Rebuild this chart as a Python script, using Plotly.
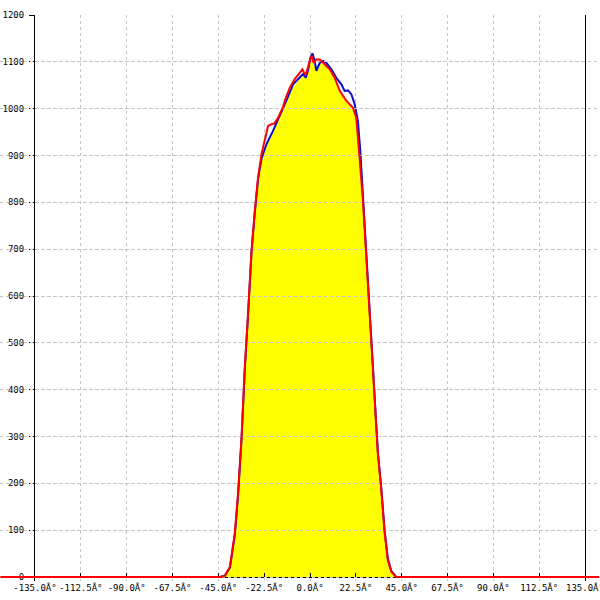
import plotly.graph_objects as go

# ---------------- data ----------------
angles_red = [-152, -44.2, -41.8, -39.3, -36.9, -35.3, -33.6, -32.0, -30.4, -28.7, -27.1, -25.5,
              -23.8, -22.2, -20.6, -18.9, -17.6, -15.7, -13.2, -12.4, -9.9, -7.5, -5.0, -3.7,
              -2.6, -1.8, -0.1, 0.7, 1.8, 3.1, 4.8, 7.2, 9.7, 12.1, 14.6, 17.8, 21.1, 22.7,
              23.5, 24.4, 26.0, 27.6, 29.3, 30.1, 30.9, 32.2, 33.3, 35.0, 36.6, 38.2, 39.9,
              42.3, 142]
counts_red = [0, 0, 2, 22, 94, 180, 299, 448, 563, 697, 781, 853,
              903, 932, 963, 967, 968, 980, 1004, 1017, 1045, 1063, 1077, 1084,
              1074, 1076, 1102, 1113, 1098, 1105, 1105, 1095, 1084, 1066, 1038, 1017, 1002, 981,
              931, 892, 803, 690, 580, 518, 445, 345, 265, 185, 97, 36, 11,
              0, 0]

angles_blue = [-152, -44.2, -41.8, -39.3, -36.9, -35.3, -33.6, -32.0, -30.4, -28.7, -27.1, -25.5,
               -23.8, -21.4, -18.1, -14.8, -11.6, -8.3, -5.0, -3.4, -2.1, -1.0, 0.2, 1.2,
               2.3, 3.1, 4.8, 6.4, 8.0, 10.5, 12.9, 15.4, 17.0, 18.6, 20.3, 21.9, 23.5, 24.7,
               26.0, 27.6, 29.3, 30.1, 30.9, 32.2, 33.3, 35.0, 36.6, 38.2, 39.9, 42.3, 142]
counts_blue = [0, 0, 3, 20, 90, 175, 295, 445, 560, 695, 778, 850,
               893, 924, 953, 985, 1017, 1052, 1066, 1074, 1066, 1081, 1109, 1118,
               1102, 1081, 1098, 1102, 1098, 1084, 1066, 1052, 1038, 1039, 1031, 1010, 974, 910,
               814, 695, 582, 522, 450, 350, 268, 190, 100, 40, 13, 0, 0]

angles_fill = [-152, -44.2, -41.8, -39.3, -36.9, -35.3, -33.6, -32.0, -30.4, -28.7, -27.1, -25.5,
               -23.8, -21.4, -18.1, -14.8, -11.6, -8.3, -5.0, -3.4, -2.1, -1.0, 0.2, 1.2,
               1.8, 3.1, 4.8, 7.2, 9.7, 12.1, 14.6, 17.8, 21.1, 22.7, 23.5, 24.4, 26.0, 27.6,
               29.3, 30.1, 30.9, 32.2, 33.3, 35.0, 36.6, 38.2, 39.9, 42.3, 142]
counts_fill = [0, 0, 2, 20, 90, 175, 295, 445, 560, 695, 778, 850,
               893, 924, 953, 985, 1017, 1045, 1066, 1074, 1066, 1076, 1102, 1110,
               1098, 1081, 1098, 1095, 1084, 1066, 1038, 1017, 1002, 981, 931, 892, 803, 690,
               580, 518, 445, 345, 265, 185, 97, 36, 11, 0, 0]

x_tick_values = [-135, -112.5, -90, -67.5, -45, -22.5, 0, 22.5, 45, 67.5, 90, 112.5, 135]
x_tick_labels = ["-135.0Â°", "-112.5Â°", "-90.0Â°", "-67.5Â°", "-45.0Â°", "-22.5Â°", "0.0Â°",
                 "22.5Â°", "45.0Â°", "67.5Â°", "90.0Â°", "112.5Â°", "135.0Â°"]
y_tick_values = [0, 100, 200, 300, 400, 500, 600, 700, 800, 900, 1000, 1100, 1200]

# ---------------- layout geometry ----------------
W, H = 600, 600
L, R = 35, 585          # pixel columns of -135 and 135
TOP, BASE = 15, 577     # pixel rows of 1200 and 0
x_range = [-135, 135]
y_max = 1200
px_per_deg = (R - L) / (x_range[1] - x_range[0])
x2_range = [x_range[0] - L / px_per_deg, x_range[1] + (W - R) / px_per_deg]
px_per_unit = (BASE - TOP) / y_max
pad = 4                 # extra room below zero so the baseline is not clipped
y_range = [-pad / px_per_unit, y_max]

font = dict(family="DejaVu Sans Mono", size=9, color="black")
grid_col = "#c4c4c4"

fig = go.Figure()
# main subplot (x, y): yellow area and blue line
fig.add_trace(go.Scatter(x=angles_fill, y=counts_fill, xaxis="x", yaxis="y",
                         mode="lines", fill="tozeroy", fillcolor="#ffff00",
                         line=dict(width=0, color="#ffff00"), hoverinfo="skip"))
fig.add_trace(go.Scatter(x=angles_blue, y=counts_blue, xaxis="x", yaxis="y",
                         mode="lines", line=dict(color="#0a0ad0", width=2)))
# full-width subplot (x2, y): red line, whose baseline runs past the axes
fig.add_trace(go.Scatter(x=angles_red, y=counts_red, xaxis="x2", yaxis="y",
                         mode="lines", line=dict(color="#ff0000", width=2)))

fig.update_layout(
    template="none",
    width=W, height=H, autosize=False,
    margin=dict(l=0, r=0, t=0, b=0, pad=0),
    paper_bgcolor="white", plot_bgcolor="rgba(0,0,0,0)",
    showlegend=False, font=font,
    xaxis=dict(domain=[L / W, R / W], range=x_range, anchor="free", position=(H - BASE) / H,
               automargin=False, ticklabeloverflow="allow",
               tickmode="array", tickvals=x_tick_values, ticktext=x_tick_labels,
               ticks="inside", ticklen=4, tickcolor="black", tickwidth=1,
               showline=True, linecolor="black", linewidth=1, mirror=False,
               showgrid=True, gridcolor=grid_col, griddash="3px,3px", gridwidth=1,
               zeroline=False, tickfont=font, tickangle=0, ticklabelstandoff=2),
    xaxis2=dict(domain=[0, 1], range=x2_range, anchor="y", visible=False, showgrid=False,
                zeroline=False, automargin=False),
    yaxis=dict(domain=[(H - BASE - pad) / H, (H - TOP) / H], range=y_range, anchor="x",
               automargin=False, ticklabeloverflow="allow",
               tickmode="array", tickvals=y_tick_values,
               ticks="outside", ticklen=5, tickcolor="black", tickwidth=1,
               showline=True, linecolor="black", linewidth=1, mirror=True,
               showgrid=True, gridcolor=grid_col, griddash="3px,3px", gridwidth=1,
               zeroline=False, tickfont=font, ticklabelstandoff=3),
)

fig.write_html("out.html", config={"displayModeBar": False},
               post_script="document.body.style.margin='0px';document.body.style.overflow='hidden';")
